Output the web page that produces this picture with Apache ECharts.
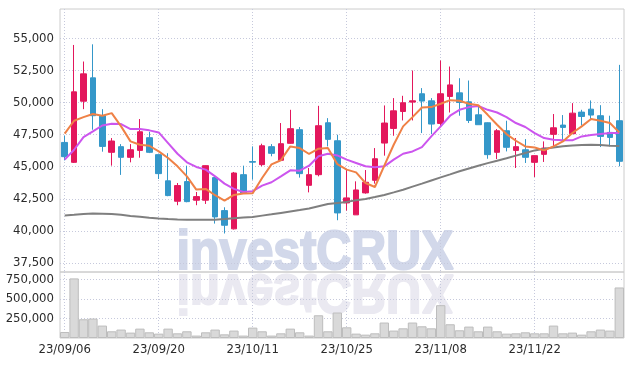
<!DOCTYPE html>
<html>
<head>
<meta charset="utf-8">
<script src="https://cdn.jsdelivr.net/npm/echarts@6/dist/echarts.min.js"></script>
<style>
  html, body { margin: 0; padding: 0; background: #fff; }
  #chart { width: 634px; height: 366px; }
</style>
</head>
<body>
<div id="chart"></div>
<script>
// trading days (YY/MM/DD)
const dates = [
  '23/09/06','23/09/07','23/09/08','23/09/11','23/09/12','23/09/13','23/09/14','23/09/15','23/09/18','23/09/19',
  '23/09/20','23/09/21','23/09/22','23/09/25','23/09/26','23/09/27','23/10/04','23/10/05','23/10/06','23/10/10',
  '23/10/11','23/10/12','23/10/13','23/10/16','23/10/17','23/10/18','23/10/19','23/10/20','23/10/23','23/10/24',
  '23/10/25','23/10/26','23/10/27','23/10/30','23/10/31','23/11/01','23/11/02','23/11/03','23/11/06','23/11/07',
  '23/11/08','23/11/09','23/11/10','23/11/13','23/11/14','23/11/15','23/11/16','23/11/17','23/11/20','23/11/21',
  '23/11/22','23/11/23','23/11/24','23/11/27','23/11/28','23/11/29','23/11/30','23/12/01','23/12/04','23/12/05'
];

const opens = [
  46890, 45340, 50100, 51920, 48970, 46120, 46560, 45730, 46270, 47260,
  45940, 43900, 42310, 43840, 42390, 42390, 44150, 41580, 40160, 44380,
  45400, 45160, 46560, 45500, 46820, 47880, 43550, 44380, 48420, 47020,
  42180, 41250, 42960, 43940, 46840, 47980, 49300, 50030, 50680, 50130,
  48370, 50470, 50750, 50050, 49040, 48420, 46120, 47800, 46270, 46320,
  45340, 45960, 47520, 48240, 47570, 49250, 49480, 48970, 47670, 48580
];
const closes = [
  45780, 50830, 52230, 48970, 46580, 47000, 45730, 46320, 47720, 46120,
  44460, 42750, 43530, 42280, 42670, 45080, 41090, 40440, 44510, 42960,
  45350, 46630, 46040, 46790, 47960, 44460, 44380, 48190, 47130, 41400,
  42570, 43190, 43790, 45620, 48400, 49350, 49980, 50130, 50110, 48320,
  50680, 51370, 50000, 48600, 48270, 45940, 47800, 46510, 46560, 45730,
  45860, 46450, 48030, 48060, 49170, 48910, 49020, 47360, 47280, 45420
];
const lows = [
  45490, 45290, 49480, 47880, 46170, 45080, 44360, 45340, 45700, 46060,
  44040, 42700, 42000, 42230, 42000, 42100, 40570, 39800, 40110, 42880,
  43990, 45030, 45810, 45490, 46790, 44150, 43000, 44250, 46580, 40830,
  41580, 41250, 42900, 43680, 45860, 47410, 48600, 48600, 47620, 47540,
  48090, 49220, 48970, 48400, 48270, 45620, 45600, 46190, 44900, 45290,
  44200, 45370, 46580, 46970, 47570, 48210, 48660, 46530, 46580, 45030
];
const highs = [
  47410, 54480, 53190, 54530, 49480, 47230, 46760, 46760, 48710, 47720,
  45940, 46050, 43730, 45080, 43030, 45100, 44200, 41840, 44590, 45080,
  46580, 46790, 46760, 48400, 49430, 48090, 44900, 49740, 48780, 47490,
  44770, 43860, 44740, 46450, 49770, 50340, 50520, 52490, 51120, 50340,
  53270, 52800, 51890, 51710, 49750, 48450, 47930, 48580, 47230, 47150,
  45870, 46970, 49100, 49020, 49950, 49430, 50160, 49790, 48970, 52930
];

// moving averages as drawn
const maShort = [
  47570, 48580, 48860, 49100, 48970, 49170, 48140, 46970, 46710, 46630,
  46190, 45680, 45030, 44250, 43220, 43270, 42780, 42360, 42800, 42910,
  42930, 44120, 45180, 45500, 46580, 46450, 45990, 46400, 46450, 45200,
  44770, 44560, 43730, 43420, 45080, 46710, 48140, 48860, 49610, 49640,
  49900, 50180, 50130, 49900, 49780, 49040, 48270, 47540, 47020, 46580,
  46500, 46270, 46580, 46970, 47620, 48140, 48710, 48580, 48400, 47670
];
const maMid = [
  45550, 46320, 47310, 47750, 48210, 48340, 48320, 47930, 47930, 47830,
  47670, 46840, 46010, 45340, 44980, 44770, 44250, 43680, 43270, 43030,
  43090, 43530, 43790, 44250, 44720, 44690, 45080, 45810, 46010, 45880,
  45550, 45290, 45030, 44950, 45030, 45550, 46010, 46190, 46530, 47360,
  48140, 48970, 49430, 49640, 49730, 49430, 49220, 48860, 48400, 48090,
  47620, 47230, 47100, 47050, 47050, 47360, 47460, 47540, 47620, 47620
];
const maLong = [
  41200, 41250, 41320, 41350, 41340, 41320, 41250, 41170, 41100, 41030,
  40970, 40920, 40890, 40870, 40860, 40860, 40870, 40920, 40990, 41040,
  41090, 41190, 41290, 41400, 41510, 41620, 41740, 41920, 42100, 42180,
  42260, 42380, 42490, 42640, 42800, 43000, 43210, 43450, 43680, 43930,
  44170, 44400, 44640, 44860, 45080, 45280, 45470, 45660, 45860, 46070,
  46270, 46390, 46500, 46590, 46660, 46690, 46710, 46680, 46640, 46610
];

const volumes = [
  77000, 763000, 240000, 249000, 159000, 86000, 108000, 69000, 120000, 73000,
  56000, 120000, 60000, 86000, 31000, 73000, 108000, 47000, 95000, 31000,
  133000, 86000, 31000, 60000, 120000, 73000, 31000, 291000, 86000, 326000,
  137000, 56000, 43000, 60000, 198000, 95000, 124000, 198000, 150000, 124000,
  420000, 176000, 99000, 146000, 86000, 146000, 86000, 56000, 60000, 73000,
  60000, 60000, 159000, 60000, 69000, 43000, 86000, 108000, 95000, 647000
];

const priceTicks = [37500, 40000, 42500, 45000, 47500, 50000, 52500, 55000];
const volumeTicks = [250000, 500000, 750000];

const UP = '#e3175c';
const DOWN = '#3497c9';
const labelFont = "'DejaVu Sans Condensed', 'Liberation Sans Narrow', sans-serif";
const labelStyle = { color: '#2b2b2b', fontSize: 13, fontFamily: labelFont };
const dotLine = { show: true, lineStyle: { color: '#c6c9dc', type: [1, 2], width: 1 } };
const markFont = "bold 55px 'Liberation Sans', Arial, sans-serif";

// ECharts candlestick: [open, close, low, high]
const candles = dates.map((d, i) => [opens[i], closes[i], lows[i], highs[i]]);

const chart = echarts.init(document.getElementById('chart'));

const option = {
  animation: false,
  backgroundColor: '#fff',
  graphic: [
    {
      type: 'text', x: 315, y: 272, scaleX: 0.88, z: -10,
      style: {
        text: 'investCRUX', x: 0, y: -18, textAlign: 'center', textVerticalAlign: 'middle',
        font: markFont, fill: '#d2d8ea', stroke: '#d2d8ea', lineWidth: 2
      }
    },
    {
      // mirrored reflection
      type: 'text', x: 315, y: 272, scaleX: 0.88, scaleY: -1, z: -10,
      style: {
        text: 'investCRUX', x: 0, y: -18, textAlign: 'center', textVerticalAlign: 'middle',
        font: markFont, fill: '#eae9f1', stroke: '#eae9f1', lineWidth: 2
      }
    }
  ],
  grid: [
    { left: 60, right: 10, top: 9, height: 263, show: true, borderColor: '#cccccc', borderWidth: 1, backgroundColor: 'transparent' },
    { left: 60, right: 10, top: 272, bottom: 28, show: true, borderColor: '#cccccc', borderWidth: 1, backgroundColor: 'transparent' }
  ],
  xAxis: [
    {
      type: 'category', gridIndex: 0, data: dates, boundaryGap: true,
      axisLine: { show: false }, axisTick: { show: false }, axisLabel: { show: false, interval: 9 },
      splitLine: Object.assign({ interval: 9, alignWithLabel: true }, dotLine)
    },
    {
      type: 'category', gridIndex: 1, data: dates, boundaryGap: true,
      axisLine: { show: false }, axisTick: { show: false },
      axisLabel: Object.assign({ interval: 9, margin: 5 }, labelStyle),
      splitLine: Object.assign({ interval: 9, alignWithLabel: true }, dotLine)
    }
  ],
  yAxis: [
    {
      type: 'value', gridIndex: 0, min: 36800, max: 57280, scale: true,
      axisLine: { show: false },
      axisTick: { show: false, customValues: priceTicks },
      axisLabel: Object.assign({
        customValues: priceTicks, margin: 6,
        formatter: v => v.toLocaleString('en-US')
      }, labelStyle),
      splitLine: dotLine
    },
    {
      type: 'value', gridIndex: 1, min: 0, max: 845000,
      axisLine: { show: false },
      axisTick: { show: false, customValues: volumeTicks },
      axisLabel: Object.assign({ customValues: volumeTicks, margin: 6 }, labelStyle),
      splitLine: dotLine
    }
  ],
  series: [
    {
      type: 'candlestick', xAxisIndex: 0, yAxisIndex: 0, data: candles, barWidth: 6,
      itemStyle: { color: UP, color0: DOWN, borderColor: UP, borderColor0: DOWN, borderWidth: 1 }
    },
    {
      type: 'line', xAxisIndex: 0, yAxisIndex: 0, data: maLong, symbol: 'none',
      lineStyle: { color: '#7f7f7f', width: 2 }
    },
    {
      type: 'line', xAxisIndex: 0, yAxisIndex: 0, data: maMid, symbol: 'none',
      lineStyle: { color: '#cc55ee', width: 2 }
    },
    {
      type: 'line', xAxisIndex: 0, yAxisIndex: 0, data: maShort, symbol: 'none',
      lineStyle: { color: '#ef8146', width: 2 }
    },
    {
      type: 'bar', xAxisIndex: 1, yAxisIndex: 1, data: volumes, barCategoryGap: '0%',
      itemStyle: { color: '#d9d9d9', borderColor: '#bdbdbd', borderWidth: 1 }
    }
  ]
};

chart.setOption(option);
</script>
</body>
</html>
